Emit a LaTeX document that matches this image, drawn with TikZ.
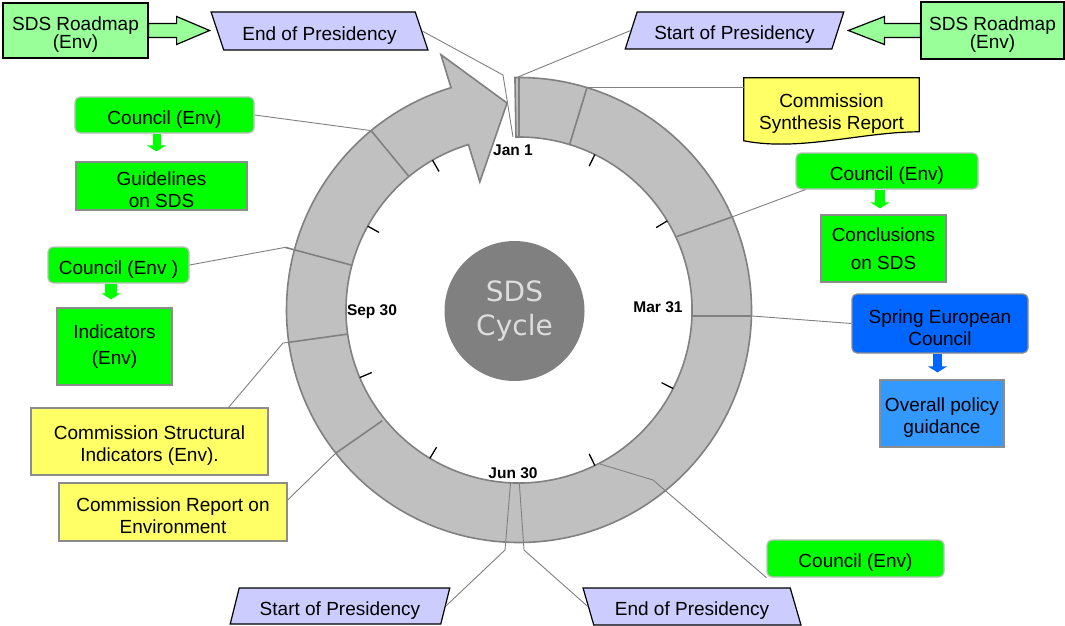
\documentclass[tikz,border=0pt]{standalone}
\usepackage{fontspec}
\setmainfont{Liberation Sans}
\newfontfamily\hubfont{DejaVu Sans}
\usetikzlibrary{calc,shapes.geometric,arrows.meta}

\definecolor{cgreen}{HTML}{00FF00}
\definecolor{clgreen}{HTML}{99FF99}
\definecolor{clav}{HTML}{CCCCFF}
\definecolor{cyel}{HTML}{FFFF66}
\definecolor{cblue}{HTML}{0066FF}
\definecolor{clblue}{HTML}{3399FF}
\definecolor{ringfill}{HTML}{C0C0C0}
\definecolor{ringline}{HTML}{808080}
\definecolor{hubfill}{HTML}{808080}
\definecolor{hubtext}{HTML}{DDDDDD}
\definecolor{boxline}{HTML}{8C8C8C}
\definecolor{softline}{HTML}{BDBDBD}

% taller first line, so that box texts sit a little lower
\newcommand\tstrut{\rule{0pt}{22pt}}

\pgfdeclarelayer{bg}
\pgfsetlayers{bg,main}

\begin{document}
\begin{tikzpicture}[x=1pt,y=-1pt,
  txt/.style={font=\fontsize{19}{22}\selectfont, align=center, inner sep=0pt},
  gbox/.style={txt, fill=cgreen, draw=boxline, line width=1.2pt},
  council/.style={txt, fill=cgreen, draw=softline, line width=1.2pt, rounded corners=5pt},
  ybox/.style={txt, fill=cyel, draw=boxline, line width=1.2pt},
  roadbox/.style={txt, fill=clgreen, draw=black, line width=1.2pt, font=\fontsize{19}{18.5}\selectfont},
  pres/.style={txt, trapezium, trapezium stretches=true, fill=clav, draw=black, line width=1.2pt},
  blockarrow/.style={fill=clgreen, draw=black, line width=1.2pt, line join=miter},
  datelbl/.style={font=\bfseries\fontsize{15.5}{18}\selectfont, inner sep=0pt},
  leader/.style={draw=ringline, line width=0.9pt},
  divider/.style={draw=ringline, line width=1.6pt},
  monthtick/.style={draw=black, line width=1.3pt},
  drop/.style={-{Triangle[length=6pt,width=19pt]}},
]
\useasboundingbox (0,0) rectangle (1065,626);
\begin{pgfonlayer}{bg}
  \fill[white] (0,0) rectangle (1065,626);
\end{pgfonlayer}

% ---- the yearly cycle ring with its arrow head ----
\begin{scope}[shift={(519,310)}]
  \filldraw[fill=ringfill, draw=ringline, line width=1.6pt, line join=miter]
    (-91:232.5) arc[start angle=-91, end angle=253, radius=232.5]
    -- (253:267) -- (-93.3:207.3) -- (253:134) -- (253:173)
    arc[start angle=253, end angle=-91, radius=173] -- cycle;
  % segment borders
  \draw[divider, line width=1.2pt] (-90:173) -- (-90:232.5);
  \draw[divider] (-73:173) -- (-73:232.5);
  \draw[divider] (-129.5:173) -- (-129.5:232.5);
  \draw[divider] (-165:173) -- (-165:242);
  \draw[divider] (-188:173) -- (-188:232.5);
  \draw[divider] (-219:176) -- (-218:232.5);
  % month ticks
  \foreach \a in {31,64,120,151,203,239,296,333}
    \draw[monthtick] (-\a:160) -- (-\a:173);
  % attachment points on the ring
  \coordinate (d73out) at (-73:232.5);
  \coordinate (tlOut) at (-129.5:232.5);
  \coordinate (mlOut) at (-165:242);
  \coordinate (csiOut) at (-188:232.5);
  \coordinate (creOut) at (-218:232.5);
\end{scope}

\coordinate (janIn) at (513,137);
\coordinate (endBend) at (503,75);
\coordinate (ringStart) at (518,77);
\coordinate (trIn) at (675.8,236.9);
\coordinate (trOut) at (733,216.6);
\coordinate (marIn) at (692,316);
\coordinate (marOut) at (752,316);
\coordinate (brIn) at (600,464);
\coordinate (brBend) at (653,480);
\coordinate (junLIn) at (510.5,483);
\coordinate (junLBend) at (505,550);
\coordinate (junRIn) at (519.3,483);
\coordinate (junRBend) at (524,550);
\coordinate (csiBend) at (283,343);

\draw[divider] (trIn) -- (trOut);
\draw[divider] (marIn) -- (marOut);

% hub and date labels
\node[circle, fill=hubfill, minimum size=140pt, inner sep=0pt, align=center,
      font=\hubfont\fontsize{28}{33.5}\selectfont, text=hubtext] (hub) at (514.5,311) {SDS\\Cycle};
\node[datelbl] (jan1) at (513,150) {Jan 1};
\node[datelbl] (mar31) at (658,307) {Mar 31};
\node[datelbl] (jun30) at (513,473) {Jun 30};
\node[datelbl] (sep30) at (372,312) {Sep 30};

% ---- boxes ----
\node[roadbox, minimum width=145pt, minimum height=55pt] (roadL) at (75.5,30.5) {\tstrut SDS Roadmap\\(Env)};
\node[roadbox, minimum width=143pt, minimum height=57pt] (roadR) at (992.5,30.5) {\tstrut SDS Roadmap\\(Env)};

\node[pres, trapezium left angle=111.5, trapezium right angle=68.5,
      minimum width=217pt, minimum height=38pt] (endTop) at (319.5,31) {\tstrut End of Presidency};
\node[pres, trapezium left angle=69.3, trapezium right angle=110.7,
      minimum width=219pt, minimum height=37pt] (startTop) at (734.5,30.5) {\tstrut Start of Presidency};
\node[pres, trapezium left angle=74.5, trapezium right angle=105.5,
      minimum width=220pt, minimum height=36pt] (startBot) at (340,606) {\tstrut Start of Presidency};
\node[pres, trapezium left angle=108, trapezium right angle=72,
      minimum width=218pt, minimum height=37pt] (endBot) at (692,606.5) {\tstrut End of Presidency};

\node[txt, minimum width=175pt, minimum height=62pt] (synth) at (831.5,109) {\tstrut Commission\\Synthesis Report};
\begin{pgfonlayer}{bg}
  \filldraw[fill=cyel, draw=black, line width=1.2pt]
    (synth.north west) -- (synth.north east) -- ($(synth.north east)+(0,54)$)
    .. controls ($(synth.north east)+(-57,54)$) and ($(synth.north west)+(56,74)$)
    .. ($(synth.north west)+(0,63)$) -- cycle;
\end{pgfonlayer}

\node[council, minimum width=179pt, minimum height=36pt] (councilTL) at (164.5,115) {\tstrut Council (Env)};
\node[council, minimum width=182pt, minimum height=36pt] (councilTR) at (887,171) {\tstrut Council (Env)};
\node[council, minimum width=141pt, minimum height=36pt] (councilML) at (118.5,265) {\tstrut Council (Env )};
\node[council, minimum width=177pt, minimum height=37pt] (councilBR) at (855.5,558.5) {\tstrut Council (Env)};

\node[gbox, minimum width=171pt, minimum height=48pt] (guide) at (161.5,186) {\tstrut Guidelines\\on SDS};
\node[gbox, minimum width=125pt, minimum height=67pt, font=\fontsize{19}{28}\selectfont] (concl) at (883.5,248.5) {Conclusions\\on SDS};
\node[gbox, minimum width=115pt, minimum height=77pt, font=\fontsize{19}{26}\selectfont] (indic) at (114.5,346.5) {Indicators\\(Env)};

\node[txt, fill=cblue, draw=boxline, line width=1.2pt, rounded corners=5pt,
      minimum width=176pt, minimum height=59pt] (spring) at (940,323.5) {\tstrut Spring European\\Council};
\node[txt, fill=clblue, draw=boxline, line width=1.2pt,
      minimum width=124pt, minimum height=67pt] (overall) at (942,413.5) {\tstrut Overall policy\\guidance};

\node[ybox, minimum width=237pt, minimum height=67pt] (csi) at (149.5,441.5) {\tstrut Commission Structural\\Indicators (Env).};
\node[ybox, minimum width=228pt, minimum height=58pt] (cre) at (173,512) {\tstrut Commission Report on\\Environment};

% ---- roadmap block arrows ----
\draw[blockarrow] ($(roadL.east)+(0,-7)$) -- ++(28,0) -- ++(0,-7) -- ($(roadL.east)+(61,0)$)
  -- ($(roadL.east)+(28,14)$) -- ++(0,-7) -- ($(roadL.east)+(0,7)$) -- cycle;
\draw[blockarrow] ($(roadR.west)+(0,-7)$) -- ++(-36,0) -- ++(0,-7) -- ($(roadR.west)+(-72,0)$)
  -- ($(roadR.west)+(-36,14)$) -- ++(0,-7) -- ($(roadR.west)+(0,7)$) -- cycle;

% ---- small down arrows ----
\draw[drop, draw=cgreen, line width=8pt] ($(councilTL.south)+(-8,0.6)$) -- ($(guide.north)+(-5,-10)$);
\draw[drop, draw=cgreen, line width=10pt] ($(councilTR.south)+(-7,0.6)$) -- ($(concl.north)+(-3.5,-6)$);
\draw[drop, draw=cgreen, line width=12pt] ($(councilML.south)+(-7.5,0.6)$) -- ($(indic.north)+(-3.5,-8)$);
\draw[drop, draw=cblue, line width=9pt] ($(spring.south)+(-2.5,0.6)$) -- ($(overall.north)+(-4.5,-7)$);

% ---- leader lines ----
\draw[leader] (endTop.east) -- (endBend) -- (janIn);
\draw[leader] (startTop.west) -- (ringStart);
\draw[leader] (d73out) -- (d73out -| synth.west);
\draw[leader] (trOut) -- ($(councilTR.south west)+(10,0)$);
\draw[leader] (marOut) -- (spring.west);
\draw[leader] (brIn) -- (brBend) -- (councilBR.south west);
\draw[leader] (startBot.east) -- (junLBend) -- (junLIn);
\draw[leader] (endBot.west) -- (junRBend) -- (junRIn);
\draw[leader] (councilTL.east) -- (tlOut);
\draw[leader] (councilML.east) -- (mlOut);
\draw[leader] (csiOut) -- (csiBend) -- ($(csi.north east)+(-40,0)$);
\draw[leader] ($(cre.east)+(0,-12)$) -- (creOut);
\end{tikzpicture}
\end{document}
